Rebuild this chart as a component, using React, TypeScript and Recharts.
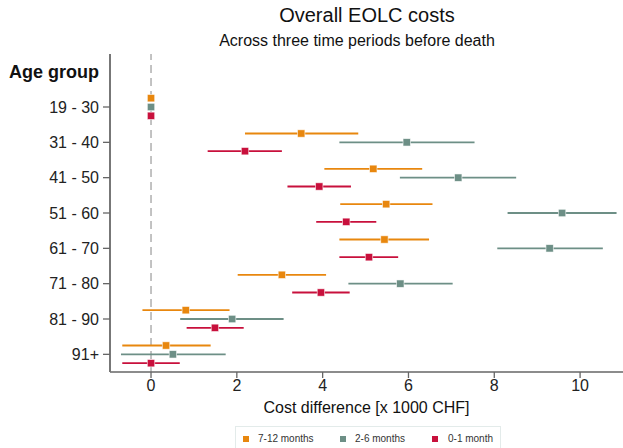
import React from 'react';
import { ScatterChart, Scatter, XAxis, YAxis, ErrorBar, ReferenceLine } from 'recharts';

const ageGroups = ['19 - 30', '31 - 40', '41 - 50', '51 - 60', '61 - 70', '71 - 80', '81 - 90', '91+'];
const seriesNames = ['7-12 months', '2-6 months', '0-1 month'];
const seriesColors = ['#E8870E', '#6D8F86', '#C8103C'];
const seriesOffsets = [-0.25, 0, 0.25];

const est712 = [0, 3.5, 5.18, 5.48, 5.44, 3.05, 0.81, 0.35];
const lo712 = [0, 2.19, 4.04, 4.41, 4.39, 2.02, -0.2, -0.67];
const hi712 = [0, 4.83, 6.32, 6.56, 6.48, 4.08, 1.83, 1.39];

const est26 = [0, 5.96, 7.16, 9.58, 9.29, 5.81, 1.89, 0.51];
const lo26 = [0, 4.39, 5.8, 8.31, 8.07, 4.6, 0.68, -0.7];
const hi26 = [0, 7.54, 8.51, 10.85, 10.53, 7.03, 3.09, 1.74];

const est01 = [0, 2.19, 3.92, 4.55, 5.08, 3.96, 1.49, 0.0];
const lo01 = [0, 1.32, 3.18, 3.85, 4.39, 3.29, 0.83, -0.67];
const hi01 = [0, 3.05, 4.66, 5.25, 5.76, 4.63, 2.16, 0.67];

const xTicks = [0, 2, 4, 6, 8, 10];
const yTicks = [-1, 0, 1, 2, 3, 4, 5, 6, 7];

const FONT = '"Liberation Sans", Arial, Helvetica, sans-serif';

const buildSeries = (est: number[], lo: number[], hi: number[], offset: number) =>
  ageGroups.map((g, i) => ({
    group: g,
    x: est[i],
    y: i + offset,
    err: [est[i] - lo[i], hi[i] - est[i]],
  }));

const allSeries = [
  buildSeries(est712, lo712, hi712, seriesOffsets[0]),
  buildSeries(est26, lo26, hi26, seriesOffsets[1]),
  buildSeries(est01, lo01, hi01, seriesOffsets[2]),
];

const YTick = (props: any) => {
  const { x, y, payload } = props;
  const i = payload.value;
  if (i === -1) {
    return (
      <text x={x} y={y} dy="0.355em" textAnchor="end" fontSize={18} fontWeight="bold" fill="#111" fontFamily={FONT}>
        Age group
      </text>
    );
  }
  return (
    <g>
      <line x1={x + 4} x2={x + 11} y1={y} y2={y} stroke="#666" strokeWidth={1.3} />
      <text x={x} y={y} dy="0.355em" textAnchor="end" fontSize={16} fill="#222" fontFamily={FONT}>
        {ageGroups[i]}
      </text>
    </g>
  );
};

const squareShape = (color: string) => (props: any) => {
  const { cx, cy } = props;
  if (cx == null || cy == null) return <g />;
  return <rect x={cx - 3.7} y={cy - 3.7} width={7.4} height={7.4} fill={color} stroke="#fff" strokeOpacity={0.7} strokeWidth={0.8} />;
};

export default function App() {
  return (
    <div style={{ position: 'absolute', left: 0, top: 0, width: 623, height: 448, background: '#fff', fontFamily: FONT, overflow: 'hidden' }}>
      <div style={{ position: 'absolute', left: 167, top: 5, width: 400, textAlign: 'center', fontSize: 20, lineHeight: '20px', color: '#111' }}>
        Overall EOLC costs
      </div>
      <div style={{ position: 'absolute', left: 157, top: 33, width: 400, textAlign: 'center', fontSize: 16, lineHeight: '16px', color: '#111' }}>
        Across three time periods before death
      </div>
      <ScatterChart width={623} height={448} margin={{ top: 54, right: 0, bottom: 26, left: 0 }}>
        <XAxis
          type="number"
          dataKey="x"
          domain={[-0.956, 11.0]}
          allowDataOverflow
          ticks={xTicks}
          tickSize={6}
          tickMargin={2}
          height={50}
          stroke="#666"
          axisLine={{ stroke: '#666', strokeWidth: 1.5 }}
          tickLine={{ stroke: '#666', strokeWidth: 1.3 }}
          tick={{ fontSize: 16, fill: '#222', fontFamily: FONT }}
          label={{ value: 'Cost difference [x 1000 CHF]', position: 'insideBottom', offset: 9, fontSize: 16, fill: '#111', fontFamily: FONT }}
        />
        <YAxis
          type="number"
          dataKey="y"
          domain={[-1.5, 7.5]}
          reversed
          allowDataOverflow
          ticks={yTicks}
          width={110}
          tickSize={7}
          tickMargin={4}
          tickLine={false}
          axisLine={{ stroke: '#777', strokeWidth: 2 }}
          tick={<YTick />}
          interval={0}
        />
        <ReferenceLine x={0} stroke="#b4b4b4" strokeWidth={1.6} strokeDasharray="8 5" />
        {allSeries.map((data, s) => (
          <Scatter
            key={seriesNames[s]}
            name={seriesNames[s]}
            data={data}
            fill={seriesColors[s]}
            shape={squareShape(seriesColors[s])}
            isAnimationActive={false}
          >
            <ErrorBar dataKey="err" direction="x" width={0} stroke={seriesColors[s]} strokeWidth={1.8} isAnimationActive={false} />
          </Scatter>
        ))}
      </ScatterChart>
      <div style={{ position: 'absolute', left: 235, top: 426, width: 266, height: 30, border: '1px solid #e3ebea', boxSizing: 'border-box' }}>
        {seriesNames.map((n, s) => {
          const sqLeft = [7, 104, 196][s];
          const txtLeft = [22, 119, 212][s];
          return (
            <React.Fragment key={n}>
              <div style={{ position: 'absolute', left: sqLeft, top: 9, width: 6, height: 6, background: seriesColors[s] }} />
              <div style={{ position: 'absolute', left: txtLeft, top: 6, fontSize: 10, lineHeight: '12px', color: '#333', whiteSpace: 'nowrap' }}>{n}</div>
            </React.Fragment>
          );
        })}
      </div>
    </div>
  );
}
